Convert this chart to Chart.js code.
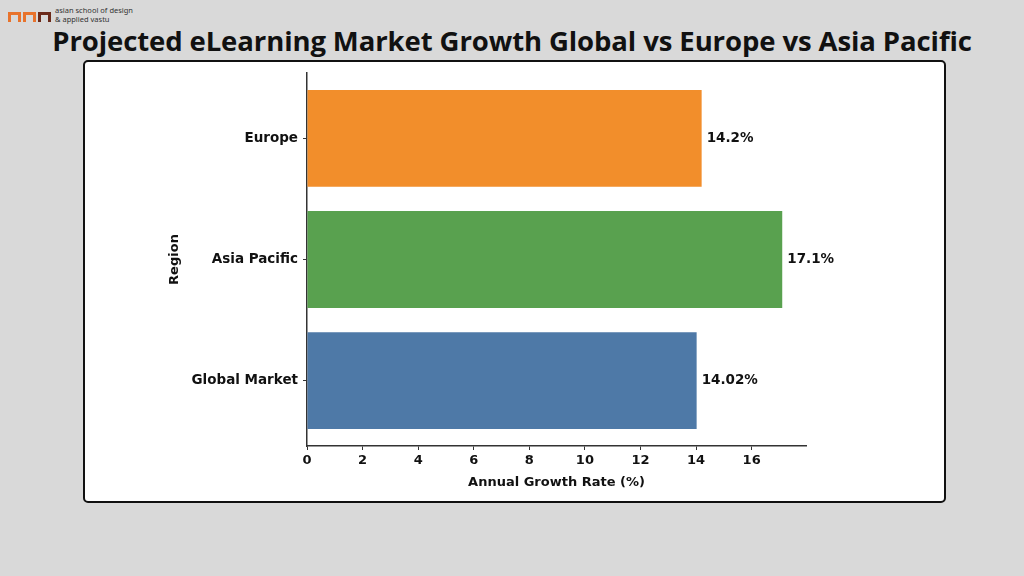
<!DOCTYPE html>
<html>
<head>
<meta charset="utf-8">
<script src="https://cdn.jsdelivr.net/npm/chart.js@4"></script>
<style>
  html, body { margin: 0; padding: 0; }
  body { width: 1024px; height: 576px; background: #d9d9d9; position: relative; overflow: hidden; font-family: "Open Sans", sans-serif; }
  .logo { position: absolute; left: 8px; top: 10px; display: flex; align-items: center; }
  .logo .mark { display: flex; gap: 2px; }
  .logo .mark span { display: block; width: 13px; height: 10px; border-top: 3px solid; border-left: 3px solid; border-right: 3px solid; box-sizing: border-box; }
  .logo .txt { font-family: "Noto Sans", sans-serif; font-size: 7.5px; line-height: 8.5px; color: #333; margin-left: 4px; margin-top: -4px; }
  h1 { position: absolute; left: 0; width: 1024px; top: 22px; margin: 0; text-align: center; font-family: "Open Sans", sans-serif; font-weight: 700; font-size: 27.5px; color: #111; letter-spacing: -0.1px; }
  .box { position: absolute; left: 83px; top: 60px; width: 859px; height: 439px; background: #fff; border: 2px solid #111; border-radius: 5px; }
  #wrap { position: absolute; left: 0; top: 0; width: 1024px; height: 576px; }
</style>
</head>
<body>
<div class="logo">
  <div class="mark"><span style="color:#e8732c"></span><span style="color:#e8732c"></span><span style="color:#6b2a1a"></span></div>
  <div class="txt">asian school of design<br>&amp; applied vastu</div>
</div>
<h1>Projected eLearning Market Growth Global vs Europe vs Asia Pacific</h1>
<div class="box"></div>
<div id="wrap"><canvas id="myChart"></canvas></div>
<script>
// Data (bottom to top, like the picture)
const regions = ['Global Market', 'Asia Pacific', 'Europe']
const growth = [14.02, 17.1, 14.2]
const growthLabels = ['14.02%', '17.1%', '14.2%']
const barColors = ['#4e79a7', '#59a14f', '#f28e2b']
const xTicks = [0, 2, 4, 6, 8, 10, 12, 14, 16]

const labelFont = { family: 'DejaVu Sans', size: 13.5, weight: 'bold' }
const axisFont = { family: 'DejaVu Sans', size: 13, weight: 'bold' }

// value labels at the end of each bar
const valueLabels = {
  id: 'valueLabels',
  afterDatasetsDraw(chart) {
    const ctx = chart.ctx
    const meta = chart.getDatasetMeta(0)
    ctx.save()
    ctx.font = 'bold 13.5px "DejaVu Sans"'
    ctx.fillStyle = '#111'
    ctx.textBaseline = 'middle'
    ctx.textAlign = 'left'
    meta.data.forEach((bar, i) => {
      ctx.fillText(growthLabels[i], bar.x + 5, bar.y)
    })
    ctx.restore()
  }
}

const data = {
  datasets: [{
    label: 'Annual Growth Rate',
    data: regions.map((r, i) => ({ x: growth[i], y: i })),
    backgroundColor: barColors,
    borderWidth: 0,
    barPercentage: 0.8,
    categoryPercentage: 1.0
  }]
}

const config = {
  type: 'bar',
  data,
  options: {
    indexAxis: 'y',
    responsive: false,
    animation: false,
    layout: { padding: { left: 163, right: 218, top: 73, bottom: 82 } },
    plugins: { legend: { display: false }, tooltip: { enabled: false } },
    scales: {
      x: {
        type: 'linear',
        min: 0,
        max: 17.955,
        afterBuildTicks: axis => { axis.ticks = xTicks.map(v => ({ value: v })) },
        afterFit: axis => { axis.height = 48 },
        grid: { drawOnChartArea: false, drawTicks: true, tickLength: 4, color: '#333' },
        border: { display: true, color: '#333', width: 1.5 },
        ticks: { color: '#111', font: axisFont, padding: 3, maxRotation: 0 },
        title: { display: true, text: 'Annual Growth Rate (%)', color: '#111', font: axisFont, padding: { top: 4, bottom: 4 } }
      },
      y: {
        type: 'linear',
        offset: false,
        min: -0.54,
        max: 2.54,
        afterBuildTicks: axis => { axis.ticks = regions.map((r, i) => ({ value: i })) },
        afterFit: axis => { axis.width = 144 },
        grid: { offset: false, drawOnChartArea: false, drawTicks: true, tickLength: 4, color: '#333' },
        border: { display: true, color: '#333', width: 1.5 },
        ticks: { color: '#111', font: labelFont, padding: 5, callback: v => regions[v] },
        title: { display: true, text: 'Region', color: '#111', font: axisFont, padding: { top: 4, bottom: 4 } }
      }
    }
  },
  plugins: [valueLabels]
}

const canvas = document.getElementById('myChart')
canvas.width = 1024
canvas.height = 576
const myChart = new Chart(canvas, config)
</script>
</body>
</html>
